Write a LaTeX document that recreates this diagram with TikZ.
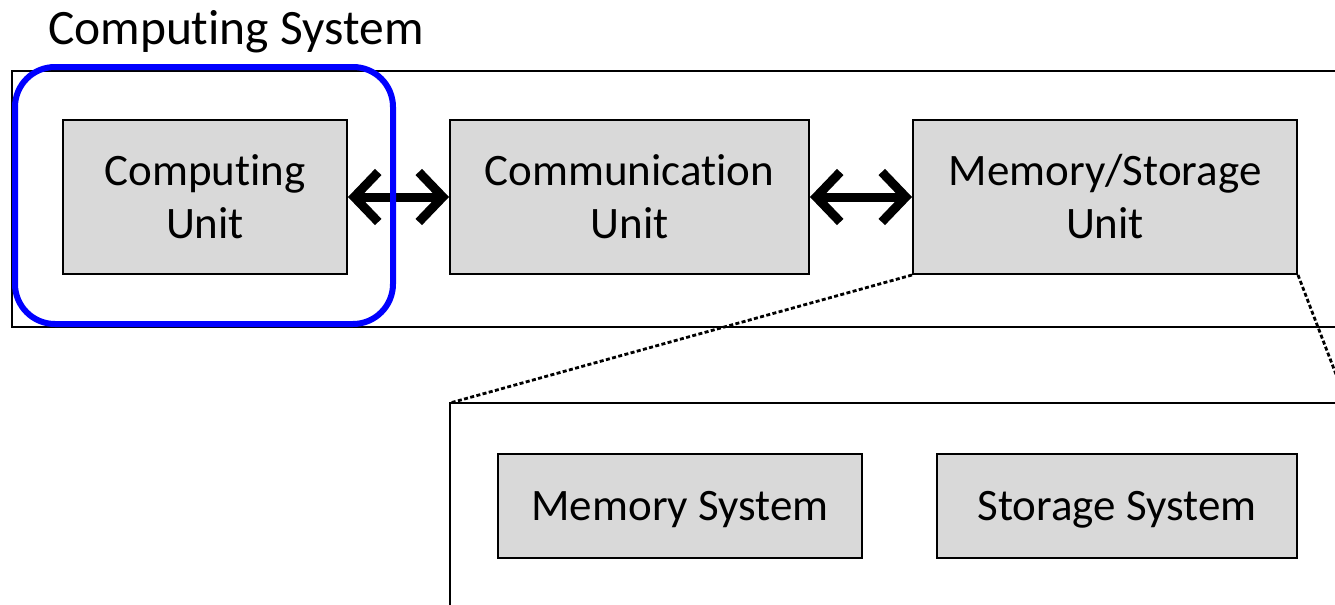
\documentclass[tikz,border=0pt]{standalone}
\usepackage{fontspec}
\setmainfont{Carlito}[RawFeature=-liga]
\usetikzlibrary{arrows.meta}
\definecolor{boxgray}{RGB}{217,217,217}
\tikzset{every picture/.style={line width=1pt}}
\tikzset{
  unitbox/.style={draw, fill=boxgray, align=center, inner sep=0pt,
    font=\fontsize{22.5}{26.5}\selectfont},
  biarrow/.style={line width=4.5pt, {Straight Barb[length=12pt,width=25pt]}-{Straight Barb[length=12pt,width=25pt]}},
  zoomline/.style={line width=1.4pt, dash pattern={on 2pt off 1.2pt}}
}

\begin{document}
\begin{tikzpicture}[x=0.5pt,y=0.5pt,yscale=-1,xscale=1]
                  \clip (0,0) rectangle (1335,605);

                  % Text Node
                  \node (title) [anchor=base west, inner sep=0pt, font=\fontsize{24.75}{29}\selectfont] at (47,44) {Computing System};
                  %Shape: Rectangle [outer frame]
                  \draw (12,71) rectangle (1370,327);

                  %Shape: Rectangle [units]
                  \node (cu) [unitbox, minimum width=142pt, minimum height=77pt] at (205,197) {Computing\\Unit};
                  \node (comm) [unitbox, minimum width=179.5pt, minimum height=77pt] at (629.5,197) {Communication\\Unit};
                  \node (msu) [unitbox, minimum width=192pt, minimum height=77pt] at (1105,197) {Memory/Storage\\Unit};

                  %Straight Lines [arrows]
                  \draw [biarrow] (cu.east) -- (comm.west);
                  \draw [biarrow] (comm.east) -- (msu.west);

                  %Shape: Rectangle [zoomed frame]
                  \coordinate (zl) at (450,403);
                  \coordinate (zr) at (1347,403);
                  \draw (450,700) -- (zl) -- (zr) -- (1347,700);
                  %Straight Lines [dotted]
                  \draw [zoomline] (msu.south west) -- (zl);
                  \draw [zoomline] (msu.south east) -- (zr);

                  \node (ms) [unitbox, text height=14.5pt, text depth=0pt, minimum width=182pt, minimum height=52pt] at (680,506) {Memory System};
                  \node (ss) [unitbox, text height=14.5pt, text depth=0pt, minimum width=180pt, minimum height=52pt] at (1117,506) {Storage System};

                  %Shape: Rounded Rect [highlight]
                  \draw [color=blue, line width=3pt, rounded corners=20pt] (15,67) rectangle (393,324);

\end{tikzpicture}
\end{document}
